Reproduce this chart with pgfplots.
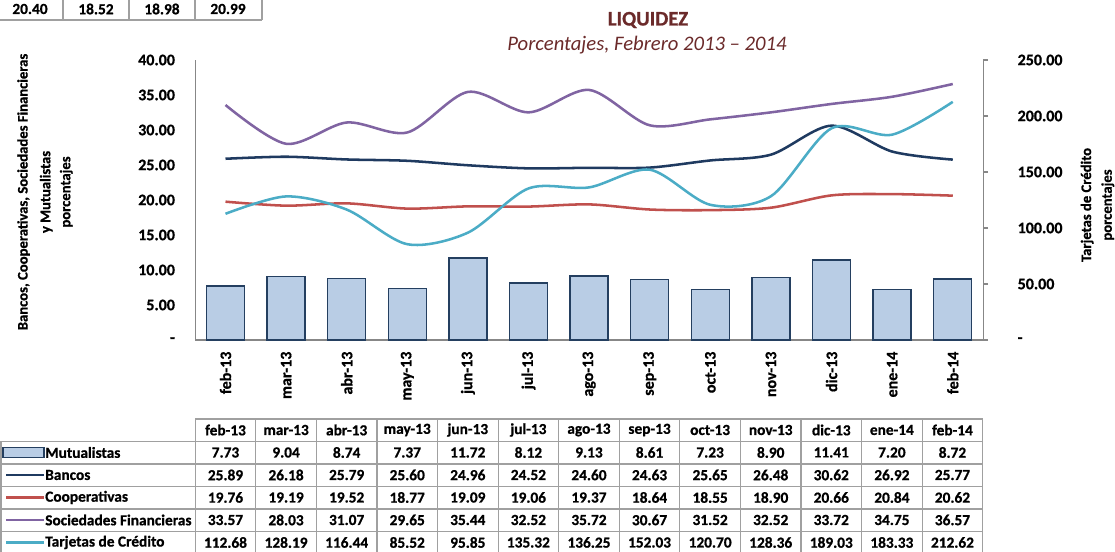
\documentclass[border=0pt]{standalone}
\usepackage{pgfplots}
\usepackage{pgfplotstable}
\pgfplotsset{compat=1.18}
\usepackage{fontspec}
\setmainfont{Carlito}[BoldFeatures={FakeBold=0.8}]
\definecolor{cBan}{HTML}{1F3A60}
\definecolor{cCoop}{HTML}{C0504D}
\definecolor{cSF}{HTML}{8064A2}
\definecolor{cTC}{HTML}{4BACC6}
\definecolor{cMut}{HTML}{B9CDE5}
\definecolor{cMutE}{HTML}{243F60}
\definecolor{cTit}{HTML}{6B2A2A}
\definecolor{cGrid}{HTML}{A0A0A0}
\definecolor{cAx}{HTML}{878787}
\newcommand{\tkf}{\fontsize{12}{14}\selectfont\bfseries}
\newcommand{\tbf}{\fontsize{11.5}{13}\selectfont\bfseries}

\pgfplotstableread{
x mut ban coop sf tc
0 7.73 25.89 19.76 33.57 112.68
1 9.04 26.18 19.19 28.03 128.19
2 8.74 25.79 19.52 31.07 116.44
3 7.37 25.60 18.77 29.65 85.52
4 11.72 24.96 19.09 35.44 95.85
5 8.12 24.52 19.06 32.52 135.32
6 9.13 24.60 19.37 35.72 136.25
7 8.61 24.63 18.64 30.67 152.03
8 7.23 25.65 18.55 31.52 120.70
9 8.90 26.48 18.90 32.52 128.36
10 11.41 30.62 20.66 33.72 189.03
11 7.20 26.92 20.84 34.75 183.33
12 8.72 25.77 20.62 36.57 212.62
}\data

\begin{document}
\begin{tikzpicture}
\begin{scope}[x=0.75pt,y=0.75pt]
\useasboundingbox (0,0) rectangle (1115,552);

% fragment of previous table at top-left
\draw[cGrid, line width=0.9pt] (0,532) -- (262,532);
\foreach \xx in {63,129,195,262} {\draw[cGrid, line width=0.9pt] (\xx,552) -- (\xx,532);}
\foreach \v [count=\i from 0] in {20.40,18.52,18.98,20.99} {
  \node[font=\tbf, inner sep=0pt] at (30+66*\i,543) {\v};
}

% titles
\node[font=\fontsize{15.5}{18}\selectfont\bfseries, text=cTit] at (648,532) {LIQUIDEZ};
\node[font=\fontsize{15.5}{18}\selectfont\itshape, text=cTit] at (647,507) {Porcentajes, Febrero 2013 -- 2014};

% axis labels
\node[rotate=90, align=center, font=\fontsize{11}{15}\selectfont\bfseries] at (45,360)
  {Bancos, Cooperativas, Sociedades Financieras\\[2pt] y Mutualistas\\ porcentajes};
\node[rotate=90, align=center, font=\fontsize{11}{15.5}\selectfont\bfseries] at (1097.5,347)
  {Tarjetas de Crédito\\ porcentajes};

% data table
\draw[cGrid, line width=0.9pt] (195.2,133) -- (982.7,133);
\foreach \yy in {110.5,88,65.5,43,20.5} {\draw[cGrid, line width=0.9pt] (1,\yy) -- (982.7,\yy);}
\draw[cGrid, line width=0.9pt] (1,110.5) -- (1,-3);
\foreach \k in {0,...,13} {\draw[cGrid, line width=0.9pt] (195.2+60.58*\k,133) -- (195.2+60.58*\k,-3);}

\foreach \v [count=\i from 0] in {feb-13,mar-13,abr-13,may-13,jun-13,jul-13,ago-13,sep-13,oct-13,nov-13,dic-13,ene-14,feb-14}
  {\node[font=\tbf, inner sep=0pt] at (225.5+60.58*\i,122) {\v};}
\foreach \v [count=\i from 0] in {7.73,9.04,8.74,7.37,11.72,8.12,9.13,8.61,7.23,8.90,11.41,7.20,8.72}
  {\node[font=\tbf, inner sep=0pt] at (225.5+60.58*\i,99.5) {\v};}
\foreach \v [count=\i from 0] in {25.89,26.18,25.79,25.60,24.96,24.52,24.60,24.63,25.65,26.48,30.62,26.92,25.77}
  {\node[font=\tbf, inner sep=0pt] at (225.5+60.58*\i,77) {\v};}
\foreach \v [count=\i from 0] in {19.76,19.19,19.52,18.77,19.09,19.06,19.37,18.64,18.55,18.90,20.66,20.84,20.62}
  {\node[font=\tbf, inner sep=0pt] at (225.5+60.58*\i,54.5) {\v};}
\foreach \v [count=\i from 0] in {33.57,28.03,31.07,29.65,35.44,32.52,35.72,30.67,31.52,32.52,33.72,34.75,36.57}
  {\node[font=\tbf, inner sep=0pt] at (225.5+60.58*\i,32) {\v};}
\foreach \v [count=\i from 0] in {112.68,128.19,116.44,85.52,95.85,135.32,136.25,152.03,120.70,128.36,189.03,183.33,212.62}
  {\node[font=\tbf, inner sep=0pt] at (225.5+60.58*\i,9.5) {\v};}

% legend column
\draw[fill=cMut, draw=cMutE, line width=0.8pt] (3,94.5) rectangle (44,104.5);
\draw[cBan, line width=1.9pt] (6,77) -- (44,77);
\draw[cCoop, line width=1.9pt] (6,54.5) -- (44,54.5);
\draw[cSF, line width=1.9pt] (6,32) -- (44,32);
\draw[cTC, line width=1.9pt] (6,9.5) -- (44,9.5);
\node[font=\tbf, anchor=west, inner sep=0pt] at (45,99.5) {Mutualistas};
\node[font=\tbf, anchor=west, inner sep=0pt] at (45,77) {Bancos};
\node[font=\tbf, anchor=west, inner sep=0pt] at (45,54.5) {Cooperativas};
\node[font=\tbf, anchor=west, inner sep=0pt] at (45,32) {Sociedades Financieras};
\node[font=\tbf, anchor=west, inner sep=0pt] at (45,9.5) {Tarjetas de Crédito};
\end{scope}

\begin{axis}[
  at={(146.4pt,159pt)}, anchor=south west,
  scale only axis, width=590.9pt, height=210pt,
  xmin=-0.5, xmax=12.5, ymin=0, ymax=40,
  axis lines*=left,
  axis line style={draw=cAx, line width=0.8pt, -},
  xtick={0,...,12},
  xticklabels={feb-13,mar-13,abr-13,may-13,jun-13,jul-13,ago-13,sep-13,oct-13,nov-13,dic-13,ene-14,feb-14},
  xticklabel style={rotate=90, anchor=east, font=\tkf, inner sep=0pt},
  xticklabel shift=8.5pt,
  ytick={0,5,...,40},
  yticklabels={-,5.00,10.00,15.00,20.00,25.00,30.00,35.00,40.00},
  yticklabel style={anchor=east, font=\tkf, inner sep=0pt},
  yticklabel shift=15pt,
  major tick length=0pt,
  tick style={draw=none},
  clip=false,
]
\addplot[ybar, bar width=0.627, fill=cMut, draw=cMutE, line width=1pt] table[x=x,y=mut]{\data};
\addplot[cBan, line width=1.9pt, smooth, no markers] table[x=x,y=ban]{\data};
\addplot[cCoop, line width=1.9pt, smooth, no markers] table[x=x,y=coop]{\data};
\addplot[cSF, line width=1.9pt, smooth, no markers] table[x=x,y=sf]{\data};
\end{axis}

\begin{axis}[
  at={(146.4pt,159pt)}, anchor=south west,
  scale only axis, width=590.9pt, height=210pt,
  xmin=-0.5, xmax=12.5, ymin=0, ymax=250,
  axis x line=none,
  axis y line*=right,
  axis line style={draw=cAx, line width=0.8pt, -},
  ytick={0,50,...,250},
  yticklabels={-,50.00,100.00,150.00,200.00,250.00},
  yticklabel style={anchor=west, font=\tkf, inner sep=0pt},
  yticklabel shift=22pt,
  tick align=outside, major tick length=3.75pt,
  ytick style={draw=cAx, line width=0.8pt},
  clip=false,
]
\addplot[cTC, line width=1.9pt, smooth, no markers] table[x=x,y=tc]{\data};
\end{axis}
\end{tikzpicture}
\end{document}
